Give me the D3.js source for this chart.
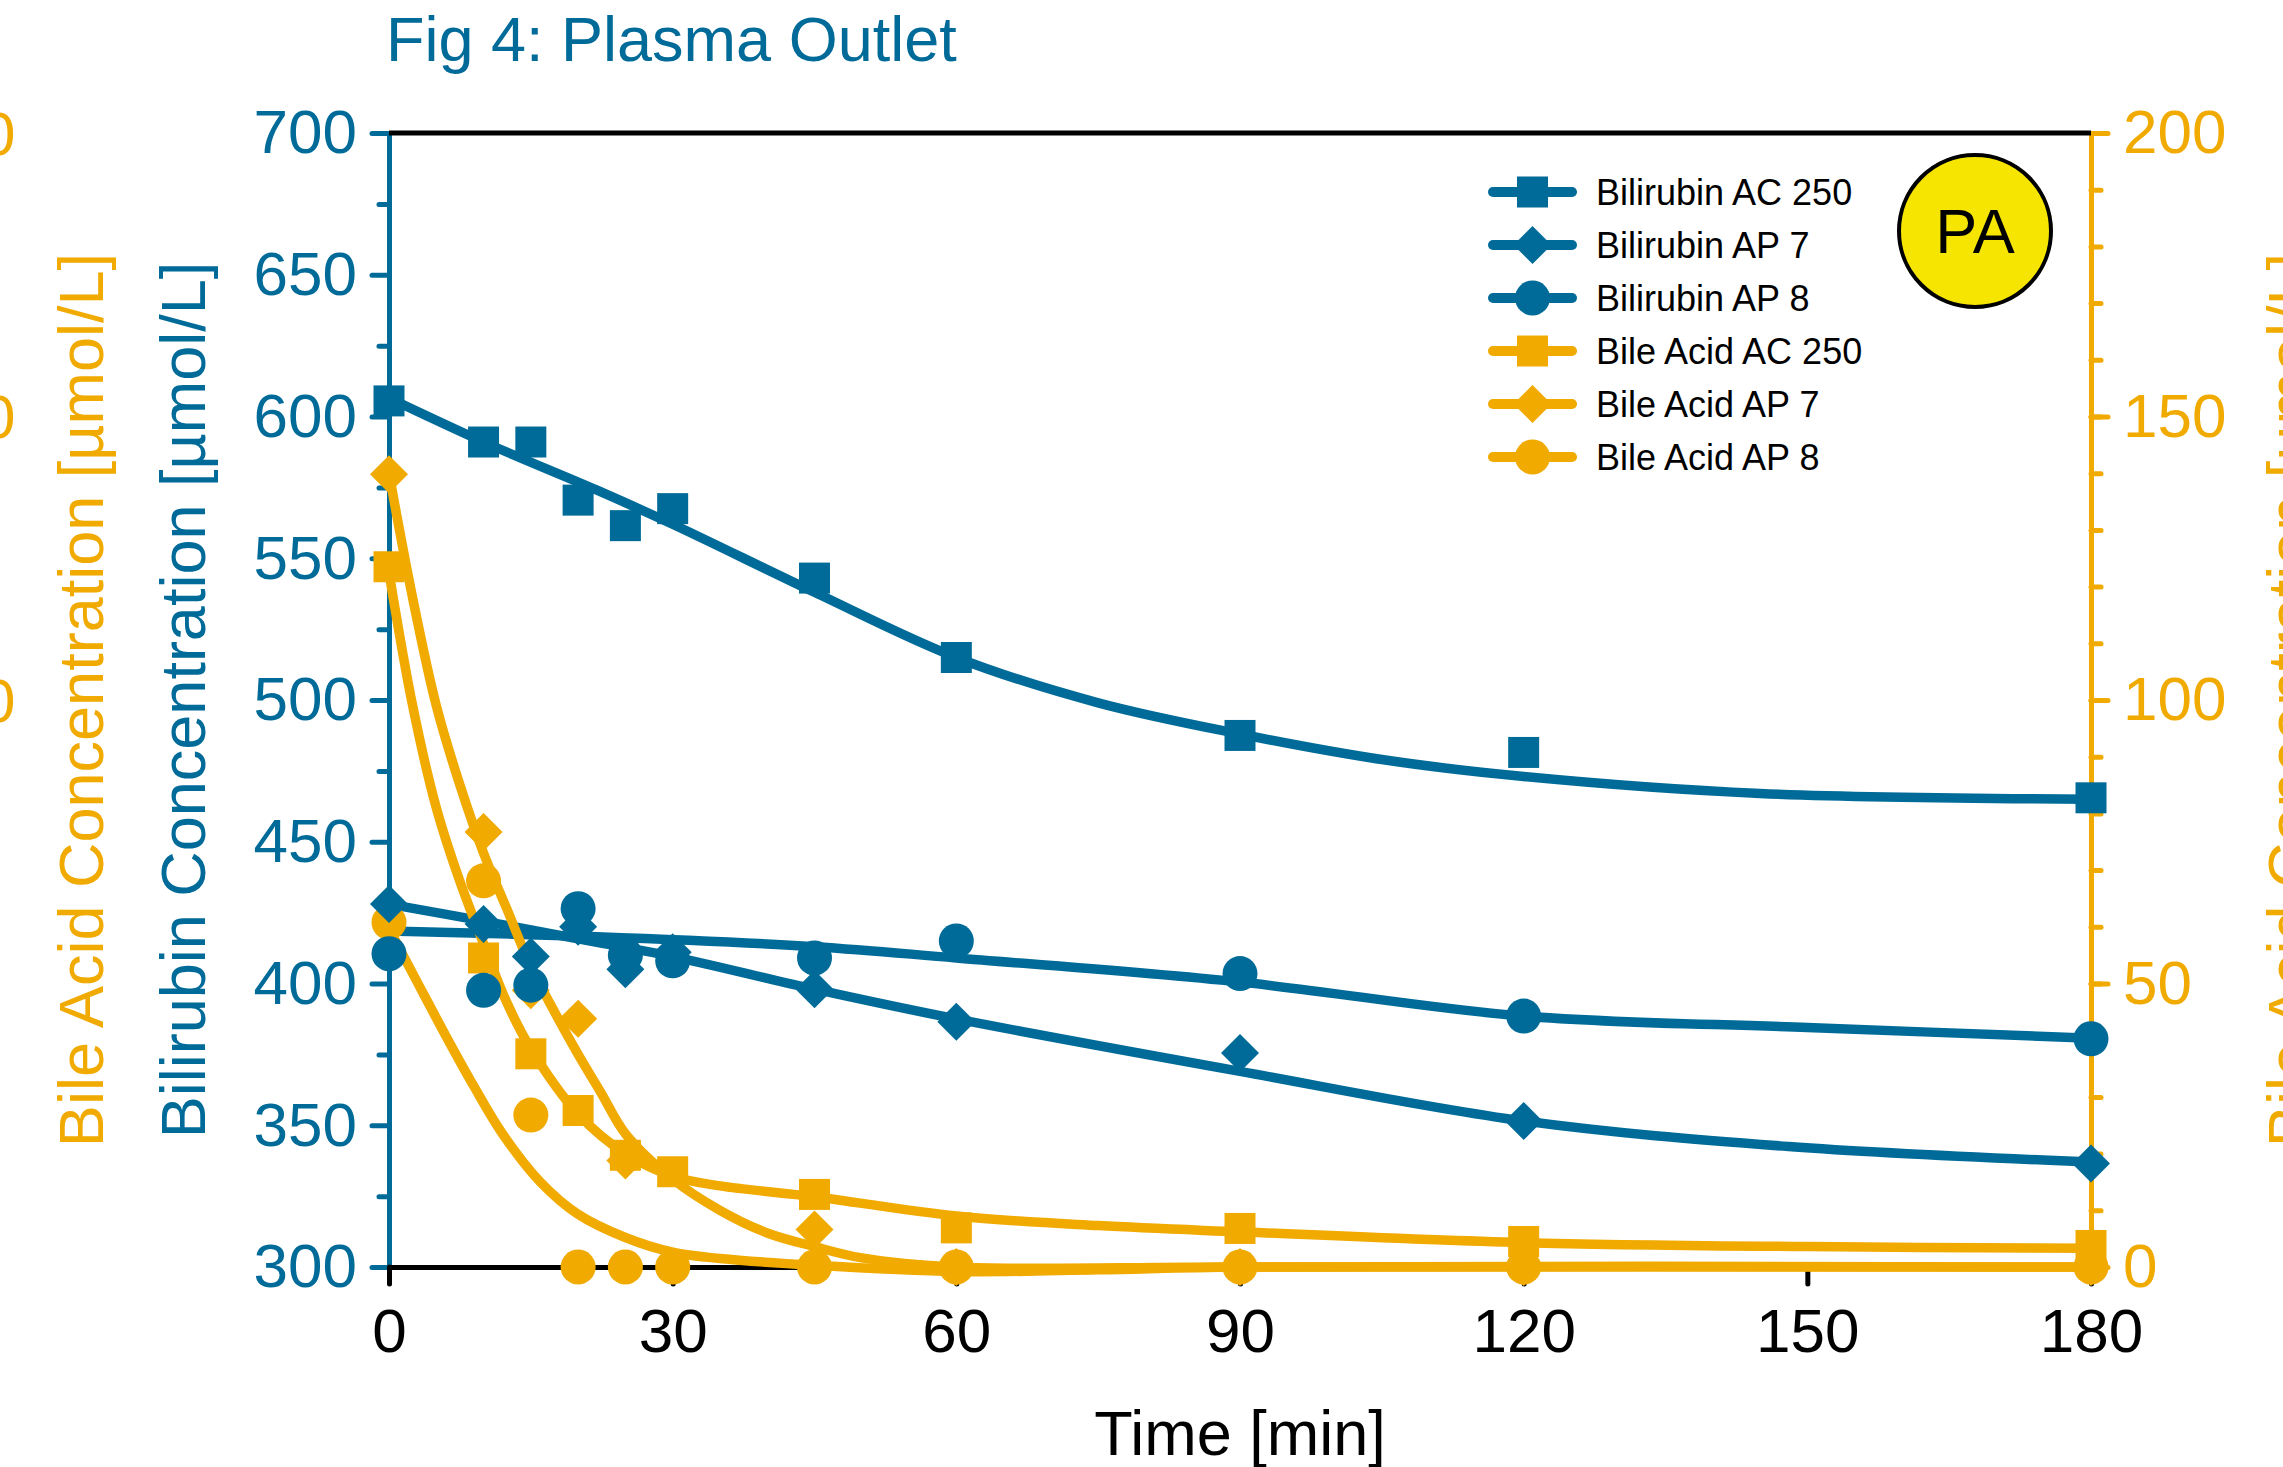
<!DOCTYPE html>
<html lang="en">
<head>
<meta charset="UTF-8">
<title>Fig 4: Plasma Outlet</title>
<script src="https://d3js.org/d3.v7.min.js"></script>
<style>
  body { margin: 0; background: #fff; overflow: hidden; }
  svg text { font-family: "Liberation Sans", Arial, sans-serif; }
</style>
</head>
<body>
<svg width="2283" height="1467"></svg>
<script>
// ---- measured points ----
const timesAll = [0, 10, 15, 20, 25, 30, 45, 60, 90, 120, 180];
const biliAC250 = [605.5, 591, 591, 570.5, 561.5, 567.5, 543, 515, 487.5, 481.5, 465.5];
const biliAP7 = [428, 421, 409.5, 420, 405, 411, 398, 386.5, 375.5, 351.5, 336.5];
const biliAP8 = [410.5, 397.6, 399.4, 426.4, 410, 408, 409, 415, 403.5, 388.5, 380.5];

const bileAC250 = [123.5, 54.5, 37.6, 27.6, 19.7, 16.8, 12.8, 6.9, 6.8, 4.5, 3.8];
const timesBileAP7 = [0, 10, 15, 20, 25, 45, 60, 90, 120, 180];
const bileAP7 = [139.8, 76.7, 48.8, 43.8, 18.8, 6.6, 0, 0, 0, 0];
const bileAP8 = [60.8, 68.1, 26.8, 0, 0, 0, 0, 0, 0, 0, 0];

// ---- fitted curves ----
const fitT_biliAC250 = [0, 10, 22, 30, 45, 60, 75, 90, 105, 120, 145, 180];
const fit_biliAC250 = [606.5, 591, 574, 562, 538, 515, 499, 488, 479, 473, 467, 465];
const fitT_biliAP7 = [0, 10, 22, 30, 45, 60, 90, 120, 148, 180];
const fit_biliAP7 = [428, 422, 414.5, 409.5, 398, 387.5, 369, 351.5, 342.5, 337];
const fitT_biliAP8 = [0, 22, 45, 60, 90, 120, 150, 180];
const fit_biliAP8 = [418.5, 416.5, 413, 409, 400.5, 388.5, 384.5, 380.7];

const fitT_bileAC250 = [0, 2.5, 5, 7.5, 10, 12.5, 15, 20, 25, 30, 35, 45, 60, 75, 90, 120, 150, 180];
const fit_bileAC250 = [122.5, 99, 81, 68, 57, 46.5, 38.5, 27, 20, 16, 14.3, 12.4, 9, 7.3, 6.2, 4.3, 3.6, 3.3];
const fitT_bileAP7 = [0, 2.5, 5, 7.5, 10, 12.5, 15, 17.5, 20, 22.5, 25, 30, 35, 40, 45, 50, 60, 90, 180];
const fit_bileAP7 = [140, 118, 99, 85, 73, 63, 53, 45, 37.5, 30.5, 23.5, 15.5, 10, 6, 3.6, 1.6, 0, 0, 0];
const fitT_bileAP8 = [0, 3, 6, 9, 12, 16, 20, 25, 30, 35, 45, 60, 75, 90, 180];
const fit_bileAP8 = [59.7, 50.2, 40.8, 31.8, 23.5, 15, 9.3, 5.2, 2.6, 1.5, 0.3, -0.8, -0.5, 0, 0];

const xTicks = [0, 30, 60, 90, 120, 150, 180];
const yLeftTicks = [300, 350, 400, 450, 500, 550, 600, 650, 700];
const yRightTicks = [0, 50, 100, 150, 200];

const BLUE = "#006b98";
const ORANGE = "#f0aa00";

const svg = d3.select("svg");
const P = { left: 389, right: 2091, top: 133, bottom: 1267 };

const x = d3.scaleLinear().domain([0, 180]).range([P.left, P.right]);
const yL = d3.scaleLinear().domain([300, 700]).range([P.bottom, P.top]);
const yR = d3.scaleLinear().domain([0, 200]).range([P.bottom, P.top]);

const FS = 62;

// title
svg.append("text").attr("x", 386).attr("y", 61)
  .attr("font-size", 63).attr("fill", BLUE).text("Fig 4: Plasma Outlet");

// ---- axes ----
function styleAxis(g, color) {
  g.selectAll("path.domain").attr("stroke", color).attr("stroke-width", 5);
  g.selectAll(".tick line").attr("stroke", color).attr("stroke-width", 5).attr("stroke-linecap", "round");
  g.selectAll(".tick text").attr("fill", color).attr("font-size", FS)
    .attr("font-family", "Liberation Sans, Arial, sans-serif");
}

// left minor + major
const gLm = svg.append("g").attr("transform", `translate(${P.left},0)`)
  .call(d3.axisLeft(yL).tickValues(d3.range(325, 700, 50)).tickSize(10).tickSizeOuter(0).tickFormat(""));
styleAxis(gLm, BLUE);
const gL = svg.append("g").attr("transform", `translate(${P.left},0)`)
  .call(d3.axisLeft(yL).tickValues(yLeftTicks).tickSize(17).tickSizeOuter(0).tickPadding(15));
styleAxis(gL, BLUE);

// right minor + major
const gRm = svg.append("g").attr("transform", `translate(${P.right},0)`)
  .call(d3.axisRight(yR).tickValues(d3.range(0, 201, 10)).tickSize(10).tickSizeOuter(0).tickFormat(""));
styleAxis(gRm, ORANGE);
const gR = svg.append("g").attr("transform", `translate(${P.right},0)`)
  .call(d3.axisRight(yR).tickValues(yRightTicks).tickSize(17).tickSizeOuter(0).tickPadding(15));
styleAxis(gR, ORANGE);

// bottom
const gB = svg.append("g").attr("transform", `translate(0,${P.bottom})`)
  .call(d3.axisBottom(x).tickValues(xTicks).tickSize(17).tickSizeOuter(0).tickPadding(24));
styleAxis(gB, "#000");

// top line
svg.append("line").attr("x1", P.left).attr("x2", P.right)
  .attr("y1", P.top).attr("y2", P.top).attr("stroke", "#000").attr("stroke-width", 5);

// left offset bile-acid axis labels (mostly cut off, as in the original)
svg.append("g").selectAll("text").data(yRightTicks).join("text")
  .attr("x", -88).attr("y", d => yR(d)).attr("dy", "0.35em")
  .attr("font-size", FS).attr("fill", ORANGE).text(d => d);

// axis titles
svg.append("text").attr("transform", `translate(205,${(P.top + P.bottom) / 2}) rotate(-90)`)
  .attr("text-anchor", "middle").attr("font-size", 63).attr("fill", BLUE)
  .text("Bilirubin Concentration [µmol/L]");
svg.append("text").attr("transform", `translate(103,${(P.top + P.bottom) / 2}) rotate(-90)`)
  .attr("text-anchor", "middle").attr("font-size", 63).attr("fill", ORANGE)
  .text("Bile Acid Concentration [µmol/L]");
svg.append("text").attr("transform", `translate(2312,${(P.top + P.bottom) / 2}) rotate(-90)`)
  .attr("text-anchor", "middle").attr("font-size", 63).attr("fill", ORANGE)
  .text("Bile Acid Concentration [µmol/L]");
svg.append("text").attr("x", (P.left + P.right) / 2).attr("y", 1455)
  .attr("text-anchor", "middle").attr("font-size", 63).attr("fill", "#000").text("Time [min]");

// ---- markers ----
function markerPath(shape) {
  if (shape === "square") return "M-15.5,-15.5H15.5V15.5H-15.5Z";
  if (shape === "diamond") return "M0,-19L19,0L0,19L-19,0Z";
  return "M17.5,0A17.5,17.5 0 1,1 -17.5,0A17.5,17.5 0 1,1 17.5,0Z";
}

const series = [
  { name: "Bilirubin AC 250", color: BLUE, shape: "square", y: yL, t: timesAll, v: biliAC250, ft: fitT_biliAC250, fv: fit_biliAC250 },
  { name: "Bilirubin AP 7", color: BLUE, shape: "diamond", y: yL, t: timesAll, v: biliAP7, ft: fitT_biliAP7, fv: fit_biliAP7 },
  { name: "Bilirubin AP 8", color: BLUE, shape: "circle", y: yL, t: timesAll, v: biliAP8, ft: fitT_biliAP8, fv: fit_biliAP8 },
  { name: "Bile Acid AC 250", color: ORANGE, shape: "square", y: yR, t: timesAll, v: bileAC250, ft: fitT_bileAC250, fv: fit_bileAC250 },
  { name: "Bile Acid AP 7", color: ORANGE, shape: "diamond", y: yR, t: timesBileAP7, v: bileAP7, ft: fitT_bileAP7, fv: fit_bileAP7 },
  { name: "Bile Acid AP 8", color: ORANGE, shape: "circle", y: yR, t: timesAll, v: bileAP8, ft: fitT_bileAP8, fv: fit_bileAP8 }
];

const lineGen = (ys) => d3.line().x(d => x(d[0])).y(d => ys(d[1])).curve(d3.curveCatmullRom.alpha(0.5));

const gLines = svg.append("g");
series.forEach(s => {
  gLines.append("path")
    .datum(s.ft.map((t, i) => [t, s.fv[i]]))
    .attr("d", lineGen(s.y))
    .attr("fill", "none").attr("stroke", s.color).attr("stroke-width", 9.5)
    .attr("stroke-linecap", "round").attr("stroke-linejoin", "round");
});

// orange markers first, blue on top
const drawOrder = [3, 4, 5, 0, 1, 2];
drawOrder.forEach(i => {
  const s = series[i];
  svg.append("g").selectAll("path")
    .data(s.t.map((t, j) => [t, s.v[j]]))
    .join("path")
    .attr("transform", d => `translate(${x(d[0])},${s.y(d[1])})`)
    .attr("d", markerPath(s.shape))
    .attr("fill", s.color);
});

// ---- legend ----
const legend = svg.append("g").attr("transform", "translate(1493,192)");
const rows = legend.selectAll("g").data(series).join("g")
  .attr("transform", (d, i) => `translate(0,${i * 53})`);
rows.append("line").attr("x1", 0).attr("x2", 79).attr("y1", 0).attr("y2", 0)
  .attr("stroke", d => d.color).attr("stroke-width", 10).attr("stroke-linecap", "round");
rows.append("path").attr("transform", "translate(39.5,0)")
  .attr("d", d => markerPath(d.shape)).attr("fill", d => d.color);
rows.append("text").attr("x", 103).attr("dy", "0.36em")
  .attr("font-size", 36).attr("fill", "#000").text(d => d.name);

// ---- PA badge ----
svg.append("circle").attr("cx", 1975).attr("cy", 231).attr("r", 76)
  .attr("fill", "#f5e500").attr("stroke", "#000").attr("stroke-width", 4);
svg.append("text").attr("x", 1975).attr("y", 253).attr("text-anchor", "middle")
  .attr("font-size", 63).attr("fill", "#000").text("PA");
</script>
</body>
</html>
